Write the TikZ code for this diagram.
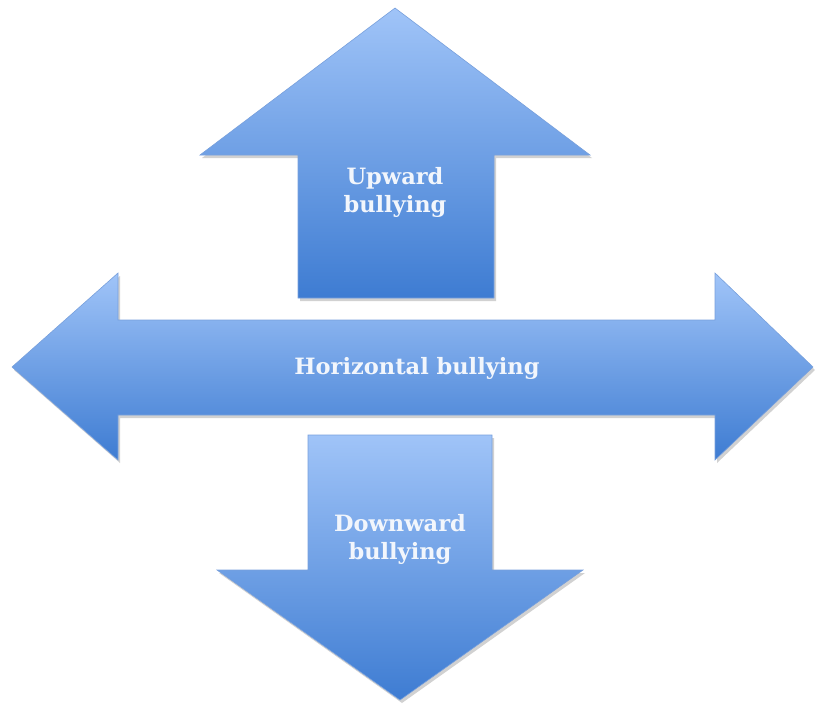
\documentclass[tikz,border=0pt]{standalone}
\usepackage{fontspec}
\newfontfamily\labelfont{DejaVu Serif}
\begin{document}
\begin{tikzpicture}[x=1pt,y=-1pt,
  arrowfill/.style={top color=arrowtop,bottom color=arrowbottom,draw=arrowedge,line width=0.6pt},
  arrowshadow/.style={fill=black,opacity=0.18,draw=none},
  lbl/.style={text=labeltext,font=\labelfont\bfseries\fontsize{22.5}{28}\selectfont,align=center,inner sep=0pt}]
\definecolor{arrowtop}{RGB}{160,196,248}
\definecolor{arrowbottom}{RGB}{62,124,210}
\definecolor{arrowedge}{RGB}{120,160,220}
\definecolor{labeltext}{RGB}{242,246,252}
\useasboundingbox (0,0) rectangle (815,704);
% soft shadows under the three arrows
\fill[arrowshadow] (395,11) -- (592,158) -- (496,158) -- (496,301) -- (300,301) -- (300,158) -- (202,158) -- cycle;
\fill[arrowshadow] (14,370) -- (120,276) -- (120,323) -- (717,323) -- (717,276) -- (815,370) -- (717,463) -- (717,418) -- (120,418) -- (120,463) -- cycle;
\fill[arrowshadow] (310,438) -- (494,438) -- (494,573) -- (585,573) -- (402,703) -- (219,573) -- (310,573) -- cycle;
% upward arrow
\path[arrowfill] (395,8) -- (590,155) -- (494,155) -- (494,298) -- (298,298) -- (298,155) -- (200,155) -- cycle;
% horizontal double arrow
\path[arrowfill] (12,367) -- (118,273) -- (118,320) -- (715,320) -- (715,273) -- (813,367) -- (715,460) -- (715,415) -- (118,415) -- (118,460) -- cycle;
% downward arrow
\path[arrowfill] (308,435) -- (492,435) -- (492,570) -- (583,570) -- (400,700) -- (217,570) -- (308,570) -- cycle;
% labels
\node[lbl] (up) at (395,192) {Upward\\bullying};
\node[lbl] (hz) at (417,368) {Horizontal bullying};
\node[lbl] (down) at (400,539) {Downward\\bullying};
\end{tikzpicture}
\end{document}
